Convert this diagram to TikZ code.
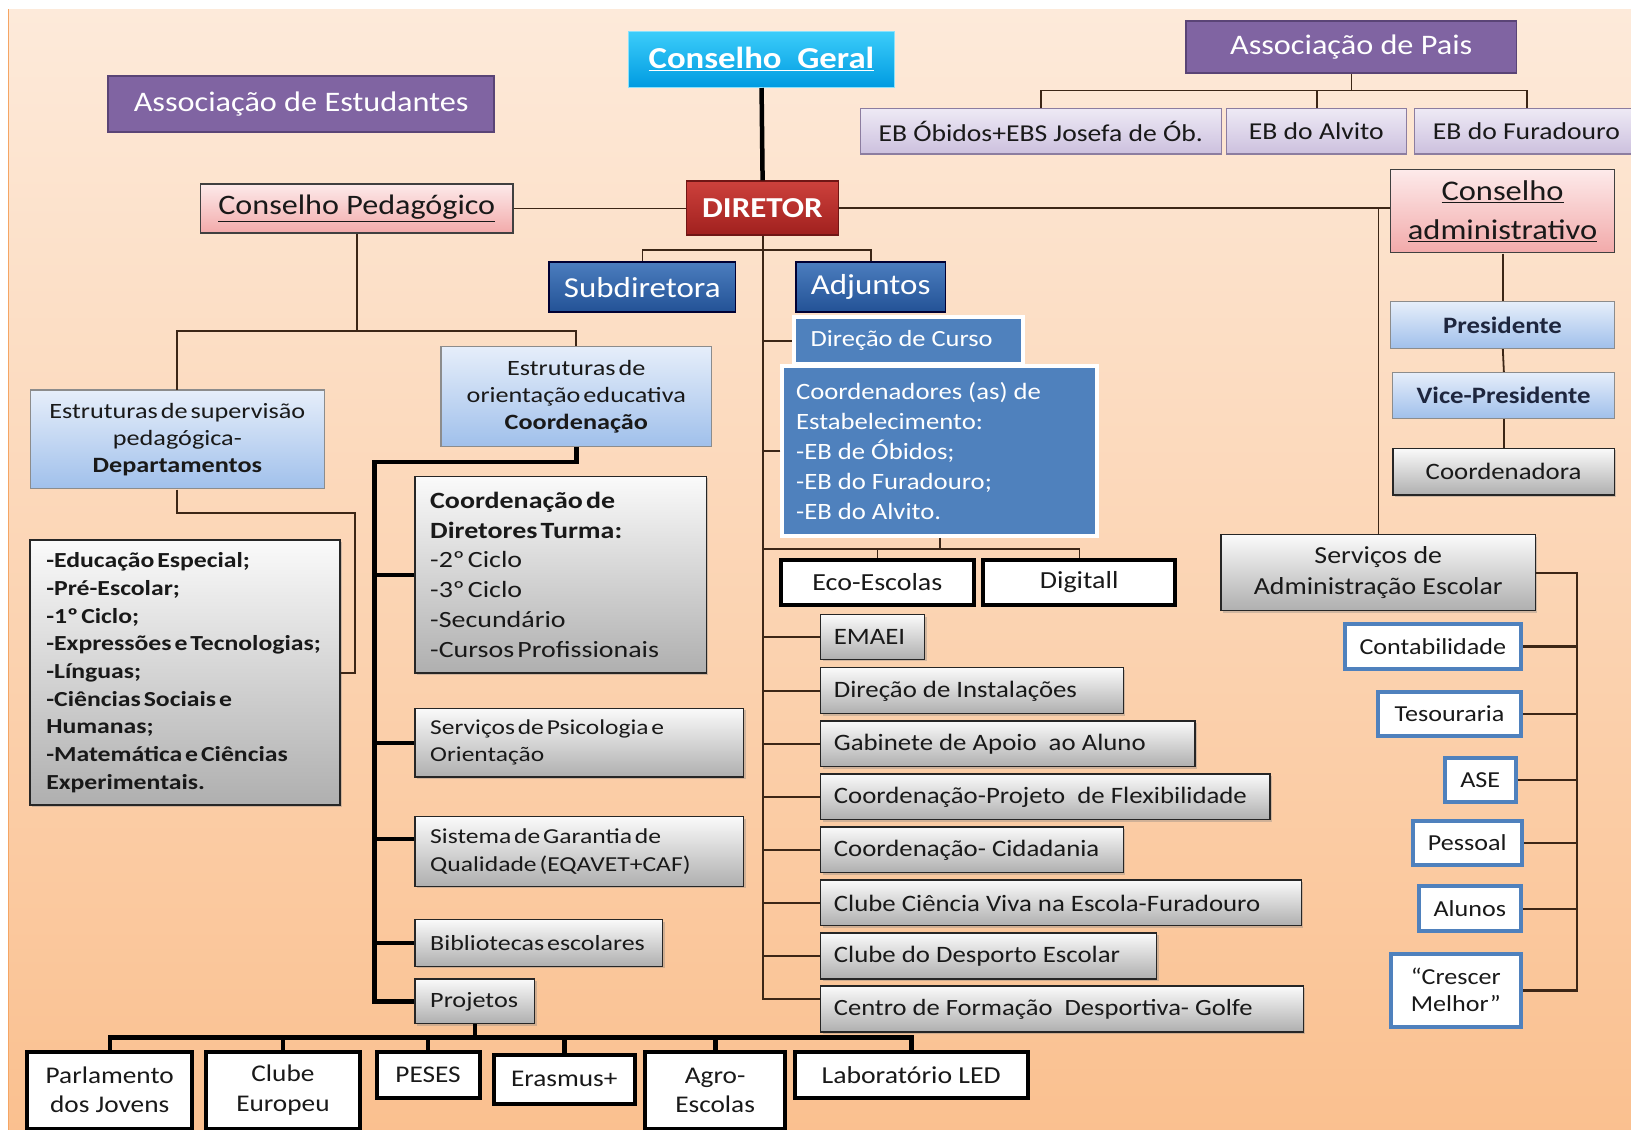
\documentclass[tikz,border=0pt]{standalone}
\usepackage{fontspec}
\setmainfont{Carlito}[FakeStretch=1.14]
\newfontfamily\condf{Carlito}[FakeStretch=1.2, WordSpace=0.5]
\usetikzlibrary{shadows,calc}

\definecolor{bgtop}{RGB}{253,234,218}
\definecolor{bgbot}{RGB}{250,192,143}
\definecolor{bgedge}{RGB}{245,165,100}
\definecolor{purp}{RGB}{128,100,162}
\definecolor{purpd}{RGB}{90,68,118}
\definecolor{lavt}{RGB}{238,234,245}
\definecolor{lavb}{RGB}{204,192,222}
\definecolor{lavd}{RGB}{140,125,160}
\definecolor{cyant}{RGB}{60,205,250}
\definecolor{cyanb}{RGB}{0,155,225}
\definecolor{redt}{RGB}{205,65,60}
\definecolor{redb}{RGB}{160,32,30}
\definecolor{pinkt}{RGB}{253,234,234}
\definecolor{pinkb}{RGB}{242,170,170}
\definecolor{dbt}{RGB}{75,125,190}
\definecolor{dbb}{RGB}{35,82,150}
\definecolor{lbt}{RGB}{230,238,250}
\definecolor{lbb}{RGB}{160,192,235}
\definecolor{gyt}{RGB}{250,250,250}
\definecolor{gyb}{RGB}{175,175,175}
\definecolor{mblue}{RGB}{79,129,189}
\definecolor{lnc}{RGB}{60,38,22}
\definecolor{txt}{RGB}{25,25,25}
\definecolor{navytxt}{RGB}{30,38,62}

\newcommand\fsz[2]{\fontsize{#1}{#2}\selectfont}
% centred box: name, style, x1, y1, x2, y2, text
\newcommand\bxc[7]{%
  \pgfmathsetmacro\myW{#5-#3}\pgfmathsetmacro\myH{#6-#4}%
  \node[basebox,#2, minimum width=\myW pt, minimum height=\myH pt] (#1) at ({(#3+#5)/2},{(#4+#6)/2}) {#7};}
% left aligned box: name, box style, text style, x1, y1, x2, y2, pad, text
\newcommand\bxl[9]{%
  \pgfmathsetmacro\myW{#6-#4}\pgfmathsetmacro\myH{#7-#5}%
  \node[basebox,#2, minimum width=\myW pt, minimum height=\myH pt] (#1) at ({(#4+#6)/2},{(#5+#7)/2}) {};
  \node[inner sep=0pt, align=left, anchor=west, text=txt, #3] (#1t) at ([xshift=#8pt]#1.west) {#9};}

\tikzset{
  basebox/.style={rectangle, inner sep=0pt, align=center, text=txt},
  purpbox/.style={fill=purp, draw=purpd, line width=1.6pt, text=white},
  lavbox/.style={top color=lavt, bottom color=lavb, draw=lavd, line width=1.2pt},
  cyanbox/.style={top color=cyant, bottom color=cyanb, draw=cyant!60!white, line width=1.2pt, text=white},
  redbox/.style={top color=redt, bottom color=redb, draw=redb!70!black, line width=1.4pt, text=white},
  pinkbox/.style={top color=pinkt, bottom color=pinkb, draw=black!75, line width=1.4pt},
  dbbox/.style={top color=dbt, bottom color=dbb, draw=black!80!blue, line width=1.6pt, text=white},
  lbbox/.style={top color=lbt, bottom color=lbb, draw=black!45, line width=1.2pt},
  graybox/.style={top color=gyt, bottom color=gyb, draw=black!85, line width=1.4pt,
     drop shadow={shadow xshift=2pt, shadow yshift=-2pt, opacity=0.35}},
  whitebk/.style={fill=white, draw=black, line width=4pt},
  whiteblue/.style={fill=white, draw=mblue, line width=4pt},
  mbbox/.style={fill=mblue, draw=white, line width=4pt},
  thinln/.style={draw=lnc, line width=1.8pt},
  medln/.style={draw=lnc, line width=2.4pt},
  thickln/.style={draw=black, line width=4.5pt}
}

\begin{document}
\begin{tikzpicture}[x=1pt,y=-1pt,scale=1.0402, every node/.append style={transform shape}]
\useasboundingbox (0,0) rectangle (1568,1086);
\clip (0,0) rectangle (1568,1086);
\fill[white] (0,0) rectangle (1568,1086);
\shade[top color=bgtop, bottom color=bgbot] (8,9) rectangle (1575,1092);
\draw[bgedge, line width=1.5pt] (8,1092) -- (8,9);

% ---------- top row
\bxc{ae}{purpbox, font=\fsz{27.2}{32}}{104}{73}{475}{127}{Associação de Estudantes}
\bxc{cg}{cyanbox, font=\bfseries\fsz{29.3}{34}}{604}{30}{860}{84}{\underline{Conselho~ Geral}}
\bxc{ap}{purpbox, font=\fsz{27.2}{32}}{1140}{20}{1458}{70}{Associação de Pais}
\bxc{eb1}{lavbox, font=\fsz{23.3}{28}}{827}{104}{1174}{148}{EB Óbidos+EBS Josefa de Ób.}
\bxc{eb2}{lavbox, font=\fsz{23.3}{28}}{1179}{104}{1352}{148}{EB do Alvito}
\bxc{eb3}{lavbox, font=\fsz{23.3}{28}}{1360}{104}{1575}{148}{EB do Furadouro}

% ---------- second row
\bxc{cp}{pinkbox, font=\fsz{27.1}{32}}{193}{177}{493}{224}{\underline{Conselho Pedagógico}}
\bxc{dir}{redbox, font=\bfseries\fsz{27.8}{32}}{660}{174}{806}{226}{DIRETOR}
\bxc{ca}{pinkbox, font=\fsz{27.4}{38}}{1337}{163}{1552}{243}{\underline{Conselho}\\\underline{administrativo}}

\bxc{sub}{dbbox, font=\fsz{27.8}{32}}{528}{252}{707}{300}{Subdiretora}
\bxc{adj}{dbbox, font=\fsz{27.8}{32}}{765}{252}{909}{300}{Adjuntos}

% ---------- right column
\bxc{pres}{lbbox, text=navytxt, font=\bfseries\fsz{22.6}{27}}{1337}{290}{1552}{335}{Presidente}
\bxc{vp}{lbbox, text=navytxt, font=\bfseries\fsz{22.6}{27}}{1339}{358}{1552}{402}{Vice-Presidente}
\bxc{coo}{graybox, font=\fsz{22.6}{27}}{1339}{431}{1552}{476}{Coordenadora}
\bxc{sae}{graybox, font=\fsz{23.5}{29}}{1174}{514}{1476}{587}{Serviços de\\Administração Escolar}
\bxc{cont}{whiteblue, font=\fsz{22}{27}}{1293}{600}{1462}{643}{Contabilidade}
\bxc{tes}{whiteblue, font=\fsz{22}{27}}{1325}{665}{1462}{708}{Tesouraria}
\bxc{ase}{whiteblue, font=\fsz{22}{27}}{1389}{729}{1457}{771}{ASE}
\bxc{pes}{whiteblue, font=\fsz{22}{27}}{1358}{789}{1463}{832}{Pessoal}
\bxc{alu}{whiteblue, font=\fsz{22}{27}}{1364}{852}{1462}{895}{Alunos}
\bxc{cm}{whiteblue, font=\fsz{22}{26}}{1337}{917}{1462}{987}{“Crescer\\Melhor”}

% ---------- middle column
\bxl{dc}{mbbox}{text=white, font=\fsz{22.3}{27}}{763}{305}{983}{350}{18}{Direção de Curso}
\bxl{ce}{mbbox}{text=white, font=\fsz{22.5}{28.7}}{752}{352}{1055}{515}{15}{Coordenadores (as) de\\Estabelecimento:\\-EB de Óbidos;\\-EB do Furadouro;\\-EB do Alvito.}
\bxc{eco}{whitebk, font=\fsz{23.6}{28}}{751}{538}{936}{582}{Eco-Escolas}
\bxc{dig}{whitebk, font=\fsz{23.6}{28}}{945}{538}{1130}{582}{Digitall}
\bxl{emaei}{graybox}{font=\fsz{22.6}{27}}{789}{591}{889}{634}{13}{EMAEI}
\bxl{di}{graybox}{font=\fsz{22.6}{27}}{789}{642}{1080}{686}{13}{Direção de Instalações}
\bxl{gab}{graybox}{font=\fsz{22.6}{27}}{789}{693}{1149}{737}{13}{Gabinete de Apoio~ ao Aluno}
\bxl{cpf}{graybox}{font=\fsz{22.6}{27}}{789}{744}{1221}{788}{13}{Coordenação-Projeto~ de Flexibilidade}
\bxl{cc}{graybox}{font=\fsz{22.6}{27}}{789}{795}{1080}{839}{13}{Coordenação- Cidadania}
\bxl{ccv}{graybox}{font=\fsz{22.6}{27}}{789}{846}{1251}{890}{13}{Clube Ciência Viva na Escola-Furadouro}
\bxl{cde}{graybox}{font=\fsz{22.6}{27}}{789}{897}{1112}{941}{13}{Clube do Desporto Escolar}
\bxl{cfd}{graybox}{font=\fsz{22.4}{27}}{789}{948}{1253}{992}{13}{Centro de Formação~ Desportiva- Golfe}

% ---------- left column
\bxc{esp}{lbbox, font=\condf\fsz{21}{26}}{29}{375}{312}{470}{Estruturas de supervisão\\pedagógica-\\\textbf{Departamentos}}
\bxc{eoe}{lbbox, font=\condf\fsz{21}{26}}{424}{333}{684}{429}{Estruturas de\\orientação educativa\\\textbf{Coordenação}}
\bxl{dept}{graybox}{font=\condf\bfseries\fsz{20.6}{26.6}}{29}{519}{327}{774}{16}{-Educação Especial;\\-Pré-Escolar;\\-1º Ciclo;\\-Expressões e Tecnologias;\\-Línguas;\\-Ciências Sociais e\\Humanas;\\-Matemática e Ciências\\Experimentais.}
\bxl{cdt}{graybox}{font=\condf\fsz{22.4}{28.7}}{399}{458}{679}{647}{15}{\textbf{Coordenação de}\\\textbf{Diretores Turma:}\\-2º Ciclo\\-3º Ciclo\\-Secundário\\-Cursos Profissionais}
\bxl{psi}{graybox}{font=\condf\fsz{20.4}{26}}{399}{681}{715}{747}{15}{Serviços de Psicologia e\\Orientação}
\bxl{sgq}{graybox}{font=\condf\fsz{20.5}{26}}{399}{785}{715}{852}{15}{Sistema de Garantia de\\Qualidade (EQAVET+CAF)}
\bxl{bib}{graybox}{font=\condf\fsz{20.8}{26}}{399}{884}{637}{929}{15}{Bibliotecas escolares}
\bxl{proj}{graybox}{font=\condf\fsz{21}{26}}{399}{941}{514}{984}{15}{Projetos}

% ---------- bottom row
\bxc{pj}{whitebk, font=\fsz{23}{28}}{26}{1011}{185}{1085}{Parlamento\\dos Jovens}
\bxc{clube}{whitebk, font=\fsz{23}{28}}{198}{1011}{346}{1085}{Clube\\Europeu}
\bxc{peses}{whitebk, font=\fsz{23}{28}}{362}{1011}{461}{1056}{PESES}
\bxc{eras}{whitebk, font=\fsz{23}{28}}{475}{1014}{610}{1061}{Erasmus+}
\bxc{agro}{whitebk, font=\fsz{23}{28}}{620}{1011}{755}{1085}{Agro-\\Escolas}
\bxc{led}{whitebk, font=\fsz{23.4}{28}}{764}{1011}{988}{1056}{Laboratório LED}

% ---------- bus coordinates
\coordinate (yAP) at (0,87);
\coordinate (yS) at (0,240);
\coordinate (xM) at (733,0);
\coordinate (yE) at (0,528);
\coordinate (yP) at (0,318);
\coordinate (xD) at (341,0);
\coordinate (yD) at (0,493);
\coordinate (xT) at (360,0);
\coordinate (yT) at (0,444);
\coordinate (yB) at (0,997);
\coordinate (xR) at (1516,0);
\coordinate (cfdL) at ([yshift=10pt]cfd.west);
\coordinate (sgqL) at ([yshift=12pt]sgq.west);

% ---------- connectors
\draw[thickln] (cg.south) -- (dir.north);
\draw[thinln] (ap.south) -- (ap.south |- yAP);
\draw[thinln] (eb1.north) |- (eb3.north |- yAP) -- (eb3.north);
\draw[thinln] (eb2.north) -- (eb2.north |- yAP);

\draw[thinln] (cp.east) -- (cp.east -| dir.west);
\draw[thinln] (dir.east) -- (dir.east -| ca.west);
\draw[thinln] (sae.north) -- (sae.north |- dir.east);
\draw[thinln] (ca.south) -- (pres.north);
\draw[thinln] (pres.south) -- (vp.north);
\draw[thinln] (vp.south) -- (coo.north);

\draw[medln] (sae.east) -- (sae.east -| xR) -- (cm.east -| xR) -- (cm.east);
\foreach \n in {cont,tes,ase,pes,alu} \draw[medln] (\n.east) -- (\n.east -| xR);

\draw[thinln] (dir.south) -- (dir.south |- yS);
\draw[thinln] (sub.north) |- (adj.north |- yS) -- (adj.north);
\draw[thinln] (dir.south) -- (xM |- cfdL) -- (cfdL);
\foreach \n in {dc,ce,emaei,di,gab,cpf,cc,ccv,cde} \draw[thinln] (\n.west) -- (\n.west -| xM);
\draw[thinln] (ce.south) -- (ce.south |- yE);
\draw[thinln] (xM |- yE) -- (dig.north |- yE) -- (dig.north);
\draw[thinln] (eco.north) -- (eco.north |- yE);

\draw[thinln] (cp.south) -- (cp.south |- yP);
\draw[thinln] (esp.north) |- (eoe.north |- yP) -- (eoe.north);
\draw[thinln] (esp.south) -- (esp.south |- yD) -- (xD |- yD) -- (xD |- dept.east) -- (dept.east);

\draw[thickln] (eoe.south) -- (eoe.south |- yT) -- (xT |- yT) -- (xT |- proj.west) -- (proj.west);
\foreach \n in {cdt,psi,bib} \draw[thickln] (\n.west) -- (\n.west -| xT);
\draw[thickln] (sgqL) -- (xT |- sgqL);

\draw[thickln] (proj.south) -- (proj.south |- yB);
\draw[thickln] (pj.north) |- (led.north |- yB) -- (led.north);
\foreach \n in {clube,peses,eras,agro} \draw[thickln] (\n.north) -- (\n.north |- yB);
\end{tikzpicture}
\end{document}
